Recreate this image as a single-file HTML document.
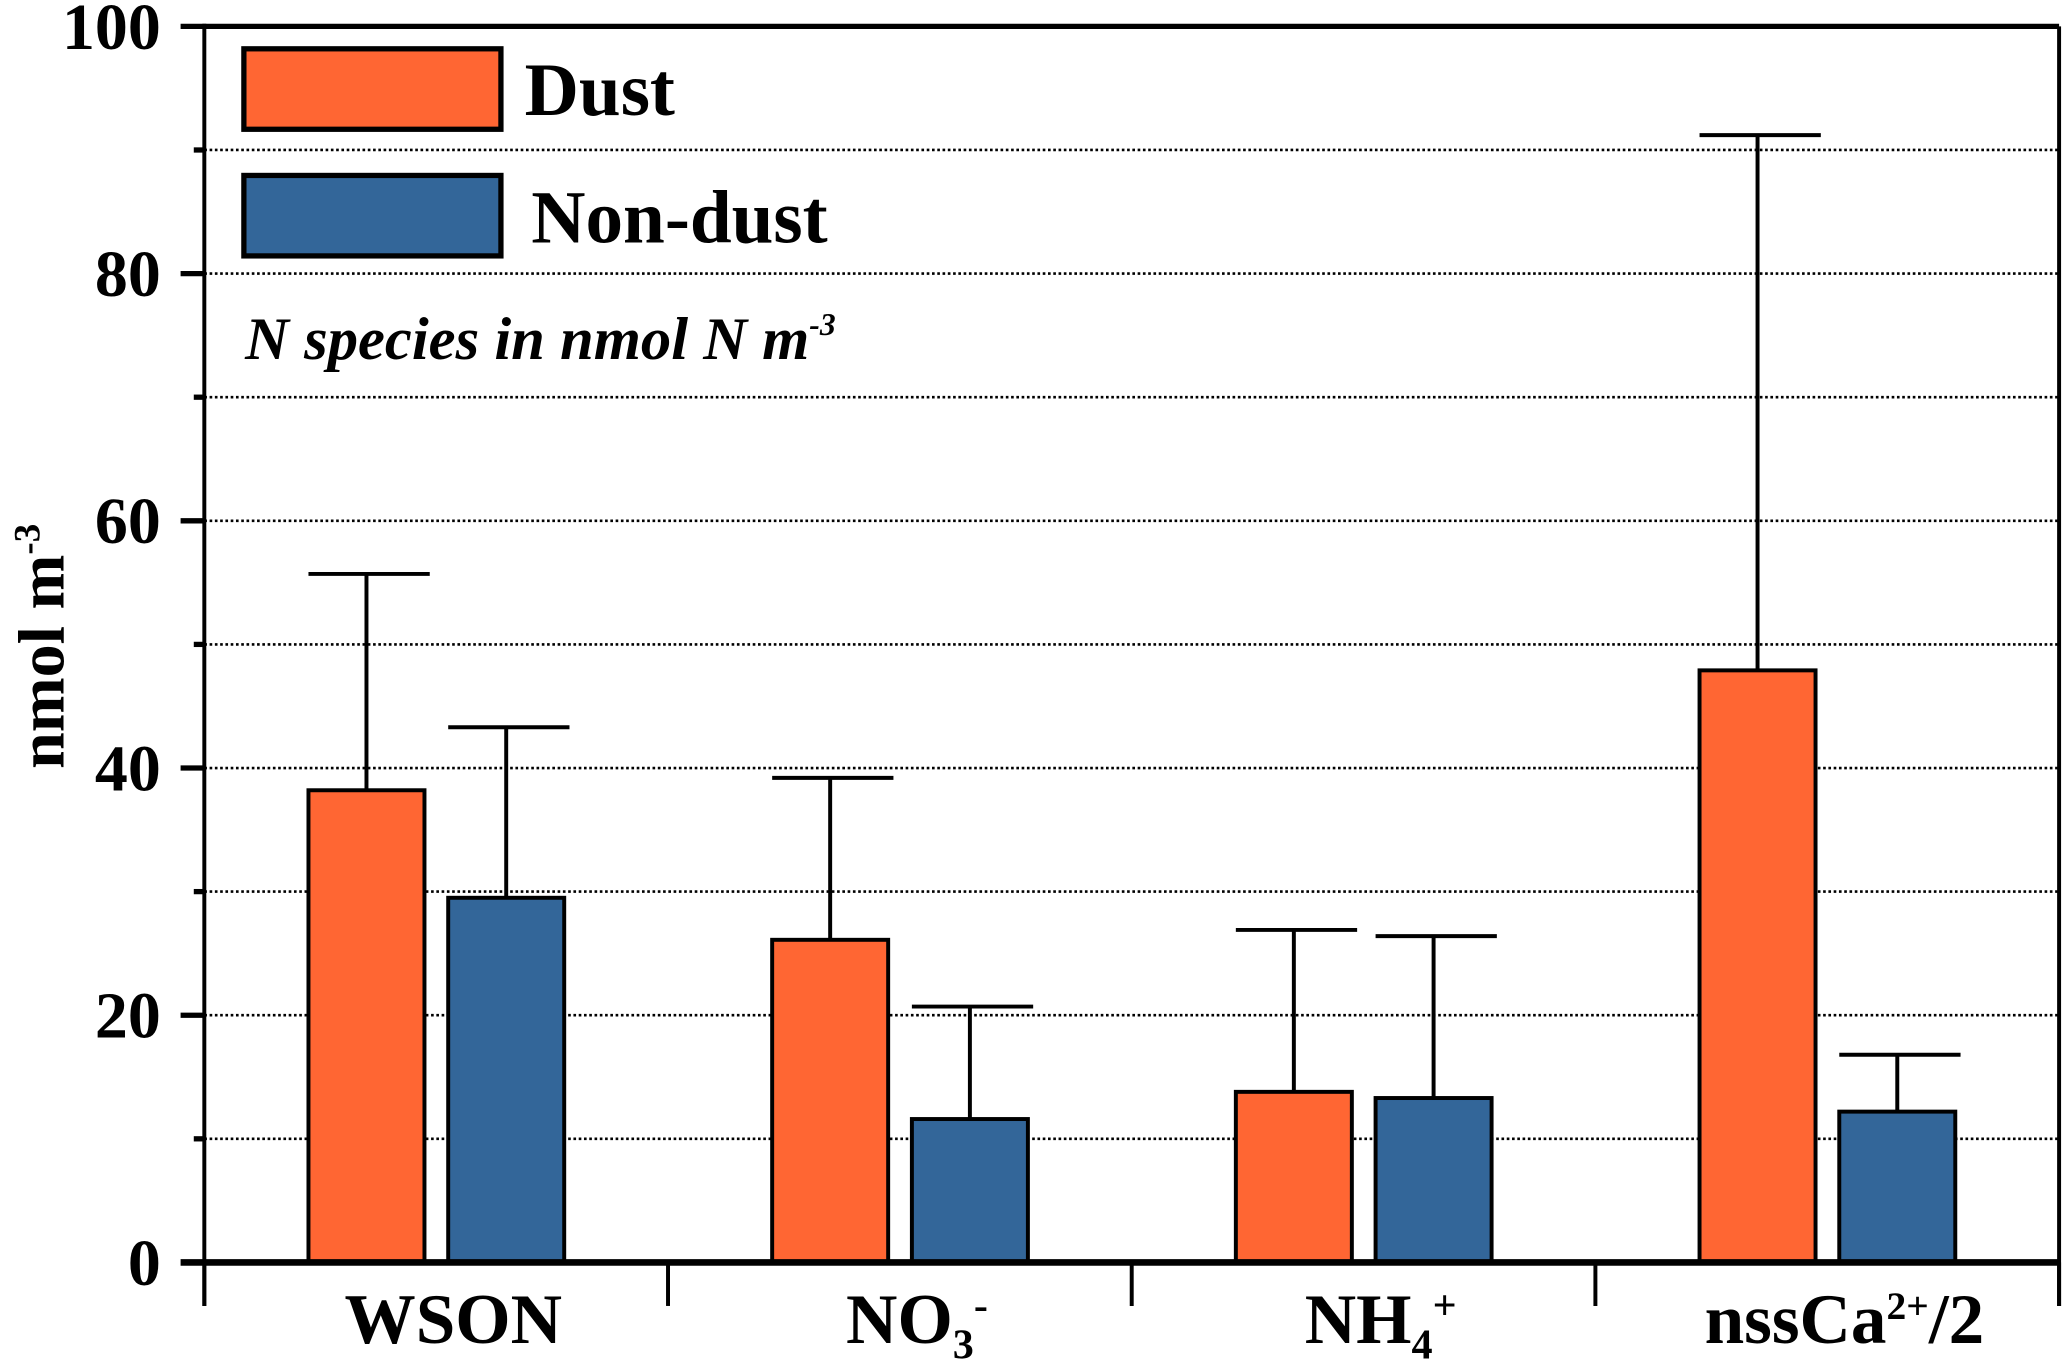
<!DOCTYPE html>
<html><head><meta charset="utf-8"><style>
html,body{margin:0;padding:0;background:#fff;}
svg{display:block;font-family:"Liberation Serif",serif;font-weight:bold;}
</style></head><body>
<svg id="chart" width="2067" height="1364" viewBox="0 0 1568 1034" preserveAspectRatio="none" xmlns="http://www.w3.org/2000/svg">
<g id="grid"></g>
<g id="bars"></g>
<g id="axes"></g>
<g>
  <rect x="185" y="37" width="195" height="61" fill="#ff6633" stroke="#000" stroke-width="4"/>
  <text x="398" y="87" font-size="57">Dust</text>
  <rect x="185" y="133" width="195" height="61" fill="#336699" stroke="#000" stroke-width="4"/>
  <text x="403" y="184" font-size="57">Non-dust</text>
</g>
<text x="186" y="272" font-size="46" font-style="italic">N species  in nmol N m<tspan font-size="24" dy="-18">-3</tspan></text>
<text transform="translate(48,490) rotate(-90)" text-anchor="middle" font-size="50">nmol m<tspan font-size="28" dy="-18">-3</tspan></text>
</svg>
<script>
const categories = ["WSON","NO3-","NH4+","nssCa2+/2"];
const dustValues = [38.2, 26.1, 13.8, 47.9];
const dustErrors = [55.7, 39.2, 26.9, 91.2];
const nonDustValues = [29.5, 11.6, 13.3, 12.2];
const nonDustErrors = [43.3, 20.7, 26.4, 16.8];
const yTicks = [0,20,40,60,80,100];

const NS="http://www.w3.org/2000/svg";
const x0=155, x1=1562, yTop=20, yZero=957;
function yScale(v){return yZero-(v/100)*(yZero-yTop);}
const groupW=(x1-x0)/categories.length;
function mk(tag,attrs,parent){const e=document.createElementNS(NS,tag);for(const k in attrs)e.setAttribute(k,attrs[k]);parent.appendChild(e);return e;}
const grid=document.getElementById('grid'),bars=document.getElementById('bars'),axes=document.getElementById('axes');

for(let v=10;v<100;v+=10){
  const g=mk('line',{x1:x0,x2:x1,y1:yScale(v),y2:yScale(v),stroke:'#000','stroke-width':2,'stroke-dasharray':'2,2'},grid);
  
  
}
const barW=88;
categories.forEach((c,i)=>{
  const gx=x0+groupW*i;
  const series=[[dustValues[i],dustErrors[i],'#ff6633',79,'dust'],[nonDustValues[i],nonDustErrors[i],'#336699',185,'non-dust']];
  series.forEach(s=>{
    const bx=gx+s[3];
    const cx=bx+barW/2;
    const el=mk('line',{x1:cx,x2:cx,y1:yScale(s[1]),y2:yScale(s[0]),stroke:'#000','stroke-width':3},bars);
    
    
    const cap=mk('line',{x1:bx,x2:bx+barW+4,y1:yScale(s[1]),y2:yScale(s[1]),stroke:'#000','stroke-width':3},bars);
    
    
    const r=mk('rect',{x:bx,y:yScale(s[0]),width:barW,height:yZero-yScale(s[0]),fill:s[2],stroke:'#000','stroke-width':3},bars);
    
    
  });
});
mk('line',{x1:x0,x2:x0,y1:yTop-2,y2:990,stroke:'#000','stroke-width':3},axes);
mk('line',{x1:x0,x2:x1,y1:yTop,y2:yTop,stroke:'#000','stroke-width':4},axes);
mk('line',{x1:x1,x2:x1,y1:yTop,y2:990,stroke:'#000','stroke-width':3},axes);
mk('line',{x1:137,x2:x1,y1:yZero,y2:yZero,stroke:'#000','stroke-width':5},axes);
for(let v=10;v<=100;v+=10){
  const major=v%20===0;
  mk('line',{x1:major?137:147,x2:x0,y1:yScale(v),y2:yScale(v),stroke:'#000','stroke-width':4},axes);
}
yTicks.forEach(v=>{
  const t=mk('text',{x:122,y:yScale(v)+17,'text-anchor':'end','font-size':50},axes);
  
  
  t.textContent=v;
});
for(let i=0;i<=categories.length;i++){
  const xx=x0+groupW*i;
  mk('line',{x1:xx,x2:xx,y1:yZero,y2:990,stroke:'#000','stroke-width':3},axes);
}
const labelHTML=['WSON','NO<tspan font-size="32" dy="12">3</tspan><tspan font-size="32" dy="-30">-</tspan>','NH<tspan font-size="32" dy="12">4</tspan><tspan font-size="32" dy="-30">+</tspan>','nssCa<tspan font-size="30" dy="-18">2+</tspan><tspan dy="18">/2</tspan>'];
categories.forEach((c,i)=>{
  const t=mk('text',{x:x0+groupW*(i+0.5)+13,y:1018,'text-anchor':'middle','font-size':54},axes);
  
  
  t.innerHTML=labelHTML[i];
});
</script>
</body></html>
